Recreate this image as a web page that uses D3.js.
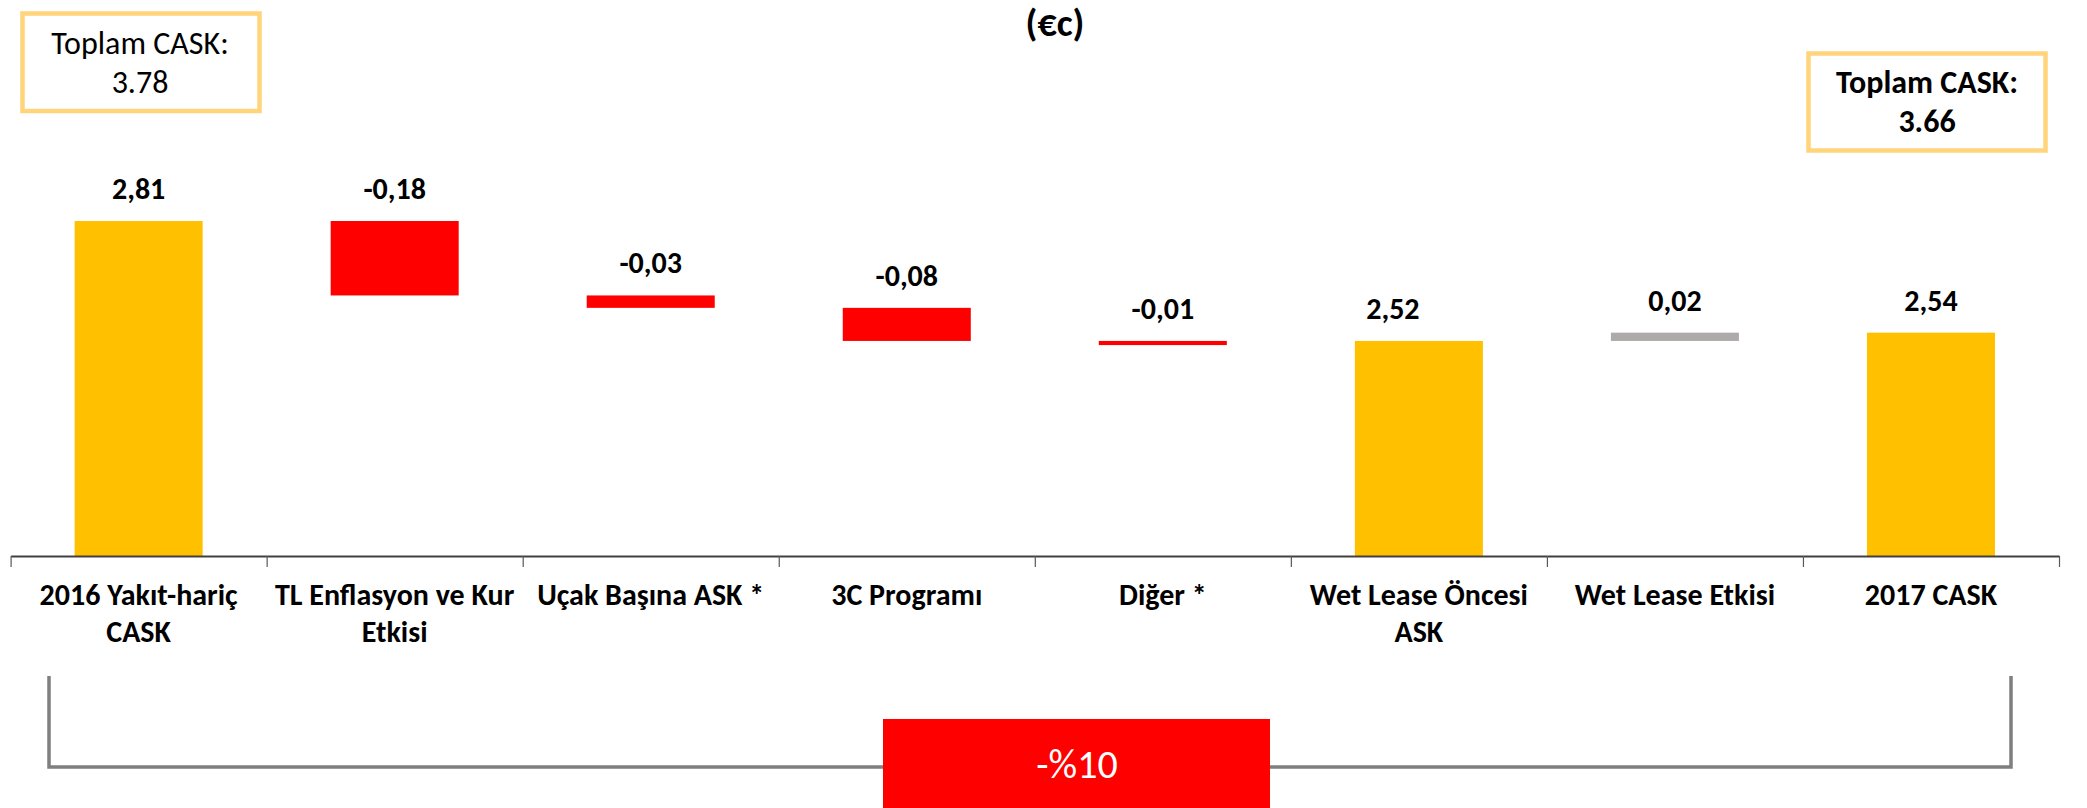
<!DOCTYPE html>
<html>
<head>
<meta charset="utf-8">
<script src="https://cdn.jsdelivr.net/npm/d3@7/dist/d3.min.js"></script>
<style>
  html, body { margin: 0; padding: 0; background: #ffffff; }
  svg { display: block; }
  text { font-family: "Carlito", "Liberation Sans Narrow", "Open Sans", sans-serif; }
</style>
</head>
<body>
<svg id="chart" width="2087" height="808"></svg>
<script>
// ---- data ----
const title = "(€c)";
const categories = [
  "2016 Yakıt-hariç\nCASK",
  "TL Enflasyon ve Kur\nEtkisi",
  "Uçak Başına ASK *",
  "3C Programı",
  "Diğer *",
  "Wet Lease Öncesi\nASK",
  "Wet Lease Etkisi",
  "2017 CASK"
];
const values = [2.81, -0.18, -0.03, -0.08, -0.01, 2.52, 0.02, 2.54];
const barKinds = ["total", "decrease", "decrease", "decrease", "decrease", "total", "increase", "total"];
const valueLabels = ["2,81", "-0,18", "-0,03", "-0,08", "-0,01", "2,52", "0,02", "2,54"];
const axisBase = 2.0;
const leftBoxLines = ["Toplam CASK:", "3.78"];
const rightBoxLines = ["Toplam CASK:", "3.66"];
const changeLabel = "-%10";

// ---- layout ----
const svg = d3.select("#chart");
const colors = { total: "#FFC000", decrease: "#FF0000", increase: "#AEAAAA" };

const axisLeft = 10.6, axisRight = 2059, axisY = 556;
const x = d3.scaleBand().domain(categories).range([axisLeft, axisRight])
  .paddingInner(0.5).paddingOuter(0.25);
const y = d3.scaleLinear().domain([axisBase, 2.81]).range([axisY, 221]);

// waterfall geometry
let running = axisBase;
const bars = values.map((v, i) => {
  let start, end;
  if (barKinds[i] === "total") { start = axisBase; end = v; running = v; }
  else { start = running; end = running + v; running = end; }
  return { cat: categories[i], v, start, end, kind: barKinds[i], label: valueLabels[i], i };
});

// title
svg.append("text").attr("x", 1055).attr("y", 36).attr("text-anchor", "middle")
  .style("font-size", "38px").style("font-weight", "bold").attr("fill", "#000")
  .text(title);

// bars
svg.append("g").selectAll("rect").data(bars).join("rect")
  .attr("x", d => x(d.cat))
  .attr("width", x.bandwidth())
  .attr("y", d => y(Math.max(d.start, d.end)))
  .attr("height", d => Math.max(2, Math.abs(y(d.start) - y(d.end))))
  .attr("fill", d => colors[d.kind]);

// value labels
const labelShift = { 5: -26 };
svg.append("g").selectAll("text").data(bars).join("text")
  .attr("x", d => x(d.cat) + x.bandwidth() / 2 + (labelShift[d.i] || 0))
  .attr("y", d => y(Math.max(d.start, d.end)) - 22)
  .attr("text-anchor", "middle")
  .style("font-size", "30px").style("font-weight", "bold").attr("fill", "#000")
  .text(d => d.label);

// axis: baseline with ticks at category boundaries
const idx = d3.scaleLinear().domain([0, categories.length]).range([axisLeft, axisRight]);
const axisG = svg.append("g").attr("transform", `translate(0,${axisY})`)
  .call(d3.axisBottom(idx).tickValues(d3.range(categories.length + 1))
    .tickFormat("").tickSize(11).tickSizeOuter(0));
axisG.select(".domain").attr("stroke", "#404040").attr("stroke-width", 2);
axisG.selectAll(".tick line").attr("stroke", "#595959").attr("stroke-width", 1.2);

// category labels
const catG = svg.append("g");
categories.forEach(c => {
  const lines = c.split("\n");
  const t = catG.append("text")
    .attr("x", x(c) + x.bandwidth() / 2)
    .attr("y", 605)
    .attr("text-anchor", "middle")
    .style("font-size", "30px").style("font-weight", "bold").attr("fill", "#000");
  lines.forEach((ln, k) => {
    t.append("tspan").attr("x", x(c) + x.bandwidth() / 2).attr("dy", k === 0 ? 0 : 37).text(ln);
  });
});

// boxes
function box(x0, y0, w, h, lines, bold, cx, baselines) {
  svg.append("rect").attr("x", x0).attr("y", y0).attr("width", w).attr("height", h)
    .attr("fill", "#fff").attr("stroke", "#FFD47A").attr("stroke-width", 4.5);
  lines.forEach((ln, k) => {
    svg.append("text").attr("x", cx).attr("y", baselines[k]).attr("text-anchor", "middle")
      .style("font-size", "32px").style("font-weight", bold ? "bold" : "normal")
      .attr("fill", "#000").text(ln);
  });
}
box(22.5, 13.5, 237, 97.5, leftBoxLines, false, 140, [54, 93]);
box(1808.5, 53.5, 237, 97, rightBoxLines, true, 1927, [93, 132]);

// bracket
svg.append("path")
  .attr("d", `M49,676 V767 H2011 V676`)
  .attr("fill", "none").attr("stroke", "#7F7F7F").attr("stroke-width", 3.5);

// change box
svg.append("rect").attr("x", 883).attr("y", 719).attr("width", 387).attr("height", 95)
  .attr("fill", "#FF0000");
svg.append("text").attr("x", 1077).attr("y", 778).attr("text-anchor", "middle")
  .style("font-size", "40px").attr("fill", "#fff").text(changeLabel);
</script>
</body>
</html>
